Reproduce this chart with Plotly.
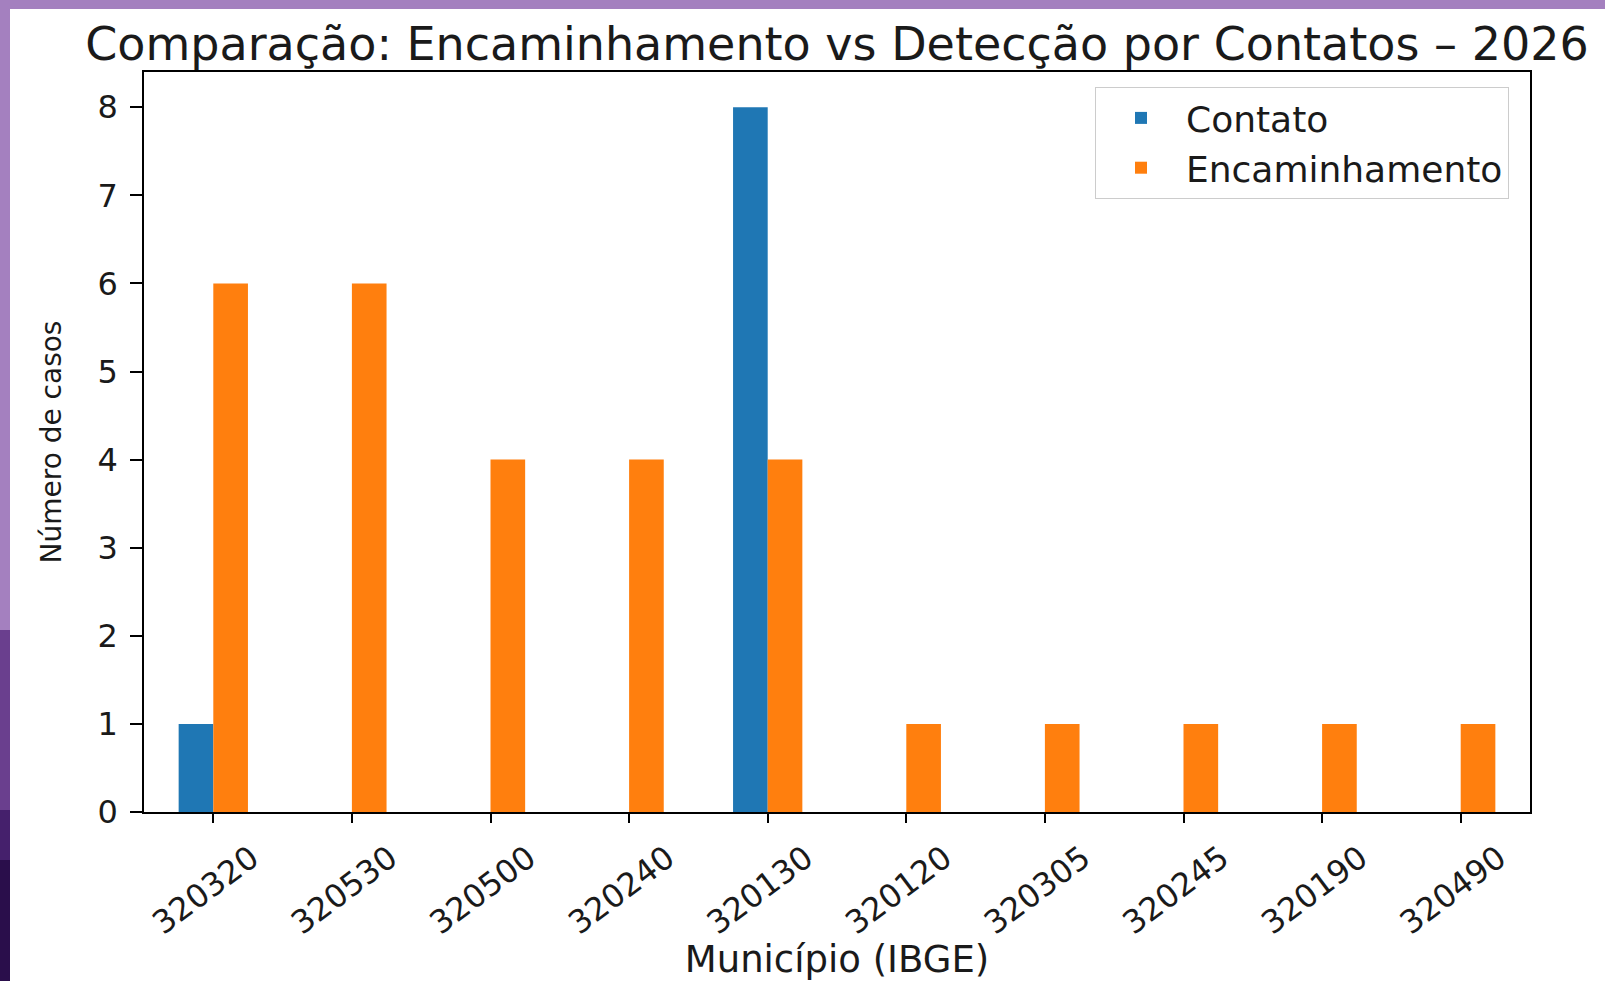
import plotly.graph_objects as go

# ---- data ----
municipios = ["320320", "320530", "320500", "320240", "320130",
              "320120", "320305", "320245", "320190", "320490"]
contato = [1, 0, 0, 0, 8, 0, 0, 0, 0, 0]
encaminhamento = [6, 6, 4, 4, 4, 1, 1, 1, 1, 1]
series_names = ["Contato", "Encaminhamento"]
y_ticks = [0, 1, 2, 3, 4, 5, 6, 7, 8]

title_text = "Comparação: Encaminhamento vs Detecção por Contatos – 2026"
x_title = "Município (IBGE)"
y_title = "Número de casos"

# ---- layout geometry (pixels) ----
W, H = 1605, 981
L, R, T, B = 144, 1530, 72, 812
pw, ph = R - L, B - T

def px_x(p):
    return (p - L) / pw

def px_y(p):
    return (B - p) / ph

FONT = "DejaVu Sans"
TXT = "#1a1a1a"
FS = 32

fig = go.Figure()
fig.add_trace(go.Bar(x=municipios, y=contato, name=series_names[0],
                     marker=dict(color="#1f77b4", line=dict(width=0))))
fig.add_trace(go.Bar(x=municipios, y=encaminhamento, name=series_names[1],
                     marker=dict(color="#ff7f0e", line=dict(width=0))))

# decorative purple frame of the screenshot
shapes = [
    dict(type="rect", xref="paper", yref="paper", x0=px_x(0), x1=px_x(W),
         y0=px_y(9), y1=px_y(0), fillcolor="#a480bf", line=dict(width=0), layer="below"),
    dict(type="rect", xref="paper", yref="paper", x0=px_x(0), x1=px_x(10),
         y0=px_y(630), y1=px_y(0), fillcolor="#a480bf", line=dict(width=0), layer="below"),
    dict(type="rect", xref="paper", yref="paper", x0=px_x(0), x1=px_x(10),
         y0=px_y(810), y1=px_y(630), fillcolor="#6a3f8e", line=dict(width=0), layer="below"),
    dict(type="rect", xref="paper", yref="paper", x0=px_x(0), x1=px_x(10),
         y0=px_y(860), y1=px_y(810), fillcolor="#45206c", line=dict(width=0), layer="below"),
    dict(type="rect", xref="paper", yref="paper", x0=px_x(0), x1=px_x(10),
         y0=px_y(H), y1=px_y(860), fillcolor="#2a0e4b", line=dict(width=0), layer="below"),
]

fig.update_layout(
    width=W, height=H,
    margin=dict(l=L, r=W - R, t=T, b=H - B, pad=0, autoexpand=False),
    paper_bgcolor="white", plot_bgcolor="white",
    barmode="group", bargap=0.5, bargroupgap=0,
    font=dict(family=FONT, color=TXT, size=FS),
    title=dict(text=title_text, x=0.5, xref="paper", xanchor="center",
               y=1 - 44 / H, yref="container", yanchor="middle",
               font=dict(family=FONT, size=46, color=TXT)),
    legend=dict(x=px_x(1509), y=px_y(87), xanchor="right", yanchor="top",
                bgcolor="white", bordercolor="#cccccc", borderwidth=1,
                font=dict(family=FONT, size=36, color=TXT),
                itemwidth=80, tracegroupgap=0),
    shapes=shapes,
    showlegend=True,
)

fig.update_xaxes(
    type="category", range=[-0.5, 9.5], automargin=True,
    showline=True, mirror=True, linecolor="black", linewidth=1.5,
    ticks="outside", ticklen=9, tickwidth=1.5, tickcolor="black",
    tickangle=-37, ticklabelshift=38, ticklabelstandoff=4,
    tickfont=dict(family=FONT, size=FS, color=TXT),
    showgrid=False, zeroline=False,
    title=dict(text=x_title, font=dict(family=FONT, size=37, color=TXT), standoff=2),
)
fig.update_yaxes(
    range=[0, 8.4], tickmode="array", tickvals=y_ticks, automargin=False,
    showline=True, mirror=True, linecolor="black", linewidth=1.5,
    ticks="outside", ticklen=12, tickwidth=1.5, tickcolor="black",
    ticklabelstandoff=6,
    tickfont=dict(family=FONT, size=FS, color=TXT),
    showgrid=False, zeroline=False,
    title=dict(text=y_title, font=dict(family=FONT, size=28, color=TXT), standoff=28),
)

fig.write_html(
    "out.html",
    config={"displayModeBar": False},
    post_script="document.body.style.margin='0';document.body.style.overflow='hidden';",
)
